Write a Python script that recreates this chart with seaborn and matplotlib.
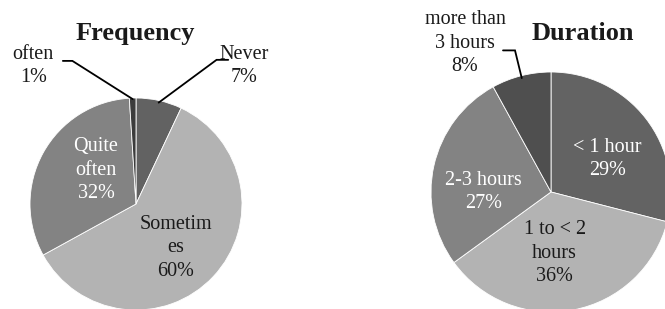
import numpy as np
import matplotlib
matplotlib.use("Agg")
import matplotlib.pyplot as plt
import seaborn as sns

sns.set_style("white")
plt.rcParams['font.family'] = ['Liberation Serif', 'DejaVu Serif']

# ---- data ----
freq_labels = ["Never", "Sometim\nes", "Quite\noften", "often"]
freq_values = [7, 60, 32, 1]
freq_colors = ["#626262", "#b3b3b3", "#838383", "#3c3c3c"]

dur_labels = ["< 1 hour", "1 to < 2\nhours", "2-3 hours", "more than\n3 hours"]
dur_values = [29, 36, 27, 8]
dur_colors = ["#636363", "#b3b3b3", "#838383", "#4f4f4f"]

W, H = 665, 309
fig = plt.figure(figsize=(W / 100, H / 100), dpi=100)


def make_ax(cx, cy, r):
    ax = fig.add_axes([(cx - r) / W, (H - cy - r) / H, 2 * r / W, 2 * r / H])
    ax.set_xlim(-1, 1)
    ax.set_ylim(-1, 1)
    ax.set_aspect("equal")
    ax.axis("off")
    return ax


def draw_pie(ax, values, colors):
    wedges, _ = ax.pie(values, colors=colors, startangle=90, counterclock=False,
                       radius=1, wedgeprops=dict(edgecolor="white", linewidth=0.6))
    ax.set_xlim(-1, 1)
    ax.set_ylim(-1, 1)
    return wedges


def mid_point(w, r=1.0):
    th = np.deg2rad((w.theta1 + w.theta2) / 2)
    return r * np.cos(th), r * np.sin(th)


FS = 14.5
LS = 1.3
TXT = "#1a1a1a"

# ---- Frequency ----
ax1 = make_ax(136, 204, 106)
w1 = draw_pie(ax1, freq_values, freq_colors)
ax1.text(-0.01, 1.61, "Frequency", ha="center", va="center", fontsize=19,
         fontweight="bold", clip_on=False, color=TXT)
# inside labels
ax1.text(0.377, -0.415, f"{freq_labels[1]}\n{freq_values[1]}%", ha="center", va="center",
         fontsize=FS, color=TXT, linespacing=LS)
ax1.text(-0.377, 0.32, f"{freq_labels[2]}\n{freq_values[2]}%", ha="center", va="center",
         fontsize=FS, color="white", linespacing=LS)
# outside labels with leaders
ax1.text(1.02, 1.30, f"{freq_labels[0]}\n{freq_values[0]}%", ha="center", va="center",
         fontsize=FS, clip_on=False, linespacing=LS, color=TXT)
px, py = mid_point(w1[0], 0.98)
ax1.plot([px, 0.76, 0.87], [py, 1.36, 1.36], color="black", lw=1.3, clip_on=False,
         solid_joinstyle="miter")
ax1.text(-0.97, 1.30, f"{freq_labels[3]}\n{freq_values[3]}%", ha="center", va="center",
         fontsize=FS, clip_on=False, linespacing=LS, color=TXT)
px, py = mid_point(w1[3], 0.99)
ax1.plot([px, -0.60, -0.69], [py, 1.35, 1.35], color="black", lw=1.3, clip_on=False,
         solid_joinstyle="miter")

# ---- Duration ----
ax2 = make_ax(551, 192, 120)
w2 = draw_pie(ax2, dur_values, dur_colors)
ax2.text(0.267, 1.325, "Duration", ha="center", va="center", fontsize=19,
         fontweight="bold", clip_on=False, color=TXT)
ax2.text(0.47, 0.275, f"{dur_labels[0]}\n{dur_values[0]}%", ha="center", va="center",
         fontsize=FS, color="white", linespacing=LS)
ax2.text(0.03, -0.51, f"{dur_labels[1]}\n{dur_values[1]}%", ha="center", va="center",
         fontsize=FS, color=TXT, linespacing=LS)
ax2.text(-0.56, 0.0, f"{dur_labels[2]}\n{dur_values[2]}%", ha="center", va="center",
         fontsize=FS, color="white", linespacing=LS)
ax2.text(-0.717, 1.24, f"{dur_labels[3]}\n{dur_values[3]}%", ha="center", va="center",
         fontsize=FS, clip_on=False, linespacing=LS, color=TXT)
px, py = mid_point(w2[3], 0.98)
ax2.plot([px, -0.30, -0.40], [py, 1.18, 1.18], color="black", lw=1.3, clip_on=False,
         solid_joinstyle="miter")

fig.savefig("out.png", dpi=100, facecolor="white")
